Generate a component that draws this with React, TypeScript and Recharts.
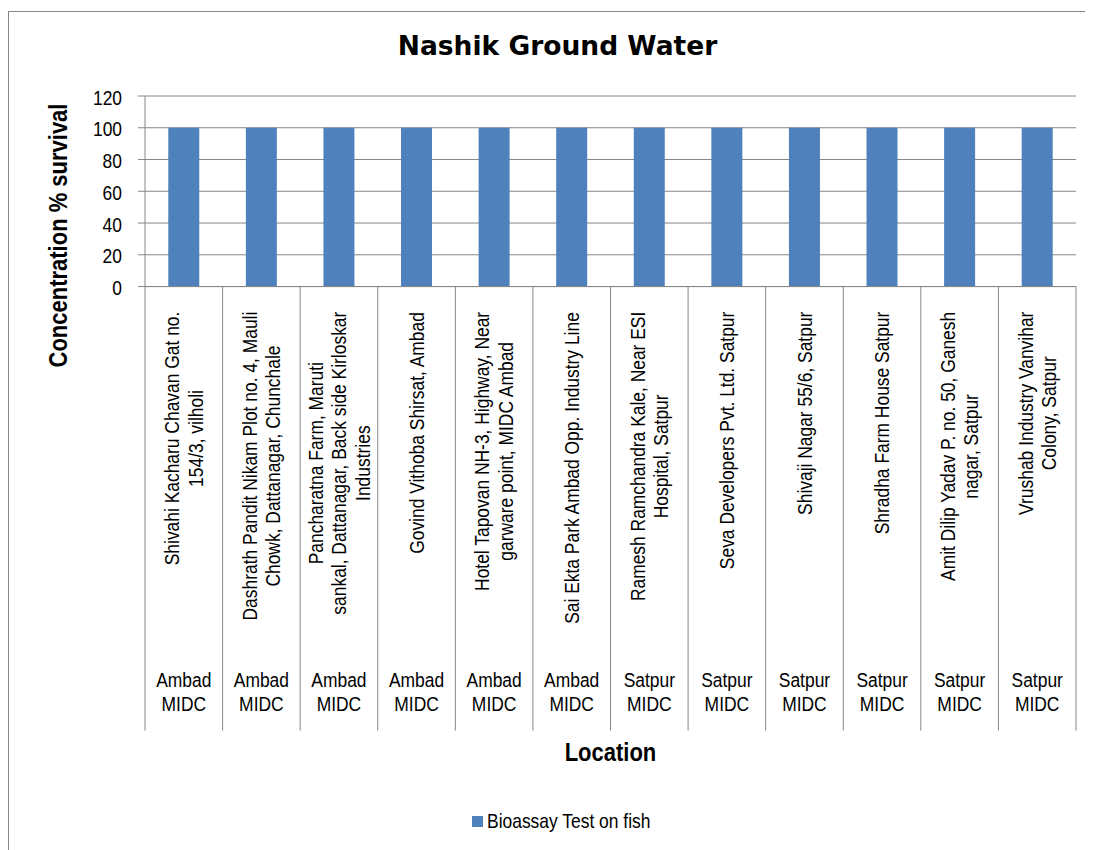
import React from 'react';
import { BarChart, Bar, XAxis, YAxis, CartesianGrid, Legend, Customized } from 'recharts';

// ---------- data ----------
const locations = [
  'Shivahi Kacharu Chavan Gat no. 154/3, vilholi',
  'Dashrath Pandit Nikam Plot no. 4, Mauli Chowk, Dattanagar, Chunchale',
  'Pancharatna Farm, Maruti sankal, Dattanagar, Back side Kirloskar Industries',
  'Govind Vithoba Shirsat, Ambad',
  'Hotel Tapovan NH-3, Highway, Near garware point, MIDC Ambad',
  'Sai Ekta Park Ambad Opp. Industry Line',
  'Ramesh Ramchandra Kale, Near ESI Hospital, Satpur',
  'Seva Developers Pvt. Ltd. Satpur',
  'Shivaji Nagar 55/6, Satpur',
  'Shradha Farm House Satpur',
  'Amit Dilip Yadav P. no. 50, Ganesh nagar, Satpur',
  'Vrushab Industry Vanvihar Colony, Satpur',
];

const locationLines = [
  ['Shivahi Kacharu Chavan Gat no.', '154/3, vilholi'],
  ['Dashrath Pandit Nikam Plot no. 4, Mauli', 'Chowk, Dattanagar, Chunchale'],
  ['Pancharatna Farm, Maruti', 'sankal, Dattanagar, Back side Kirloskar', 'Industries'],
  ['Govind Vithoba Shirsat, Ambad'],
  ['Hotel Tapovan NH-3, Highway, Near', 'garware point, MIDC Ambad'],
  ['Sai Ekta Park Ambad Opp. Industry Line'],
  ['Ramesh Ramchandra Kale, Near ESI', 'Hospital, Satpur'],
  ['Seva Developers Pvt. Ltd. Satpur'],
  ['Shivaji Nagar 55/6, Satpur'],
  ['Shradha Farm House Satpur'],
  ['Amit Dilip Yadav P. no. 50, Ganesh', 'nagar, Satpur'],
  ['Vrushab Industry Vanvihar', 'Colony, Satpur'],
];

const areaLines = [
  ['Ambad', 'MIDC'],
  ['Ambad', 'MIDC'],
  ['Ambad', 'MIDC'],
  ['Ambad', 'MIDC'],
  ['Ambad', 'MIDC'],
  ['Ambad', 'MIDC'],
  ['Satpur', 'MIDC'],
  ['Satpur', 'MIDC'],
  ['Satpur', 'MIDC'],
  ['Satpur', 'MIDC'],
  ['Satpur', 'MIDC'],
  ['Satpur', 'MIDC'],
];

const survival = [100, 100, 100, 100, 100, 100, 100, 100, 100, 100, 100, 100];

const yTicks = [0, 20, 40, 60, 80, 100, 120];

const seriesName = 'Bioassay Test on fish';
const chartTitle = 'Nashik Ground Water';
const xTitle = 'Location';
const yTitle = 'Concentration % survival';

const data = locations.map((name, i) => ({
  name,
  lines: locationLines[i],
  area: areaLines[i],
  value: survival[i],
}));

// ---------- style / layout ----------
const W = 1085;
const H = 842;
const FONT = "'Liberation Sans', Arial, sans-serif";
const TITLE_FONT = "'DejaVu Sans', Verdana, sans-serif";
const NARROW = 0.83; // emulate Arial Narrow
const GRID = '#868686';
const BAR = '#4F81BD';
const PLOT_LEFT = 137;
const PLOT_RIGHT = 1068;
const BAND = (PLOT_RIGHT - PLOT_LEFT) / locations.length;
const LABEL_SIZE = 21;
const AXIS_TITLE_SIZE = 26.5;

let ctx: CanvasRenderingContext2D | null = null;
function measure(t: string, size: number, bold = false): number {
  if (!ctx) {
    const c = document.createElement('canvas');
    ctx = c.getContext('2d');
  }
  if (!ctx) return t.length * size * 0.5;
  ctx.font = `${bold ? 'bold ' : ''}${size}px ${FONT}`;
  return ctx.measureText(t).width;
}

function NText(props: {
  x: number;
  y: number;
  rotate?: number;
  anchor?: 'start' | 'middle' | 'end';
  baseline?: string;
  size?: number;
  bold?: boolean;
  children: React.ReactNode;
}) {
  const { x, y, rotate = 0, anchor = 'middle', baseline, size = LABEL_SIZE, bold = false, children } = props;
  return (
    <text
      x={0}
      y={0}
      transform={`translate(${x}, ${y}) rotate(${rotate}) scale(${NARROW}, 1)`}
      textAnchor={anchor}
      dominantBaseline={baseline as any}
      fontFamily={FONT}
      fontWeight={bold ? 'bold' : 'normal'}
      fontSize={size}
      fill="#000"
    >
      {children}
    </text>
  );
}

function CategoryTick(props: any) {
  const { x, y, payload } = props;
  const idx = payload && typeof payload.index === 'number' ? payload.index : props.index;
  const d = data[idx];
  if (!d) return null;
  const lines: string[] = d.lines;
  const lh = 23.5;
  const maxLen = Math.max(...lines.map((l) => measure(l, LABEL_SIZE))) * NARROW;
  const cy = y + 25 + maxLen / 2;
  const n = lines.length;
  const sepBottom = y + 444;
  return (
    <g>
      <line x1={x - BAND / 2} x2={x - BAND / 2} y1={y} y2={sepBottom} stroke={GRID} strokeWidth={1} />
      {idx === data.length - 1 && (
        <line x1={x + BAND / 2} x2={x + BAND / 2} y1={y} y2={sepBottom} stroke={GRID} strokeWidth={1} />
      )}
      {lines.map((l, i) => (
        <NText key={i} x={x + (i - (n - 1) / 2) * lh} y={cy} rotate={-90} baseline="central">
          {l}
        </NText>
      ))}
      {d.area.map((a: string, i: number) => (
        <NText key={'a' + i} x={x} y={y + 400 + i * 24}>
          {a}
        </NText>
      ))}
    </g>
  );
}

function ValueTick(props: any) {
  const { x, y, payload } = props;
  return (
    <NText x={x} y={y + 1.5} anchor="end" baseline="central">
      {payload.value}
    </NText>
  );
}

function ChartTitle() {
  return (
    <text
      x={549.5}
      y={47}
      textAnchor="middle"
      fontFamily={TITLE_FONT}
      fontWeight="bold"
      fontSize={26.5}
      fill="#000"
    >
      {chartTitle}
    </text>
  );
}

function LegendLabel({ text }: { text: string }) {
  const w = measure(text, LABEL_SIZE) * NARROW;
  return (
    <span
      style={{
        display: 'inline-block',
        width: w,
        whiteSpace: 'nowrap',
        color: '#000',
        transform: `scaleX(${NARROW})`,
        transformOrigin: 'left center',
        verticalAlign: 'middle',
      }}
    >
      {text}
    </span>
  );
}

export default function App() {
  return (
    <div style={{ position: 'relative', width: W, height: H, overflow: 'hidden', background: '#fff' }}>
      <div
        style={{
          position: 'absolute',
          top: 3,
          left: 0,
          width: 3000,
          height: 3000,
          borderTop: `1px solid ${GRID}`,
          borderLeft: `1px solid ${GRID}`,
          boxSizing: 'border-box',
        }}
      />
      <BarChart
        width={W}
        height={H}
        data={data}
        margin={{ top: 88, right: W - PLOT_RIGHT, left: 0, bottom: 0 }}
        barCategoryGap="30%"
      >
        <CartesianGrid vertical={false} stroke={GRID} strokeWidth={1} />
        <XAxis
          dataKey="name"
          interval={0}
          height={538}
          tickSize={0}
          tickMargin={0}
          tickLine={false}
          axisLine={{ stroke: GRID }}
          tick={<CategoryTick />}
          label={{
            content: () => (
              <NText x={(PLOT_LEFT + PLOT_RIGHT) / 2} y={753} bold size={AXIS_TITLE_SIZE}>
                {xTitle}
              </NText>
            ),
          }}
        />
        <YAxis
          domain={[0, 120]}
          ticks={yTicks}
          interval={0}
          width={PLOT_LEFT}
          tickSize={7}
          tickMargin={16}
          axisLine={{ stroke: GRID }}
          tickLine={{ stroke: GRID }}
          tick={<ValueTick />}
          label={{
            content: () => (
              <NText x={49.5} y={227.5} rotate={-90} baseline="central" bold size={AXIS_TITLE_SIZE}>
                {yTitle}
              </NText>
            ),
          }}
        />
        <Legend
          verticalAlign="bottom"
          iconType="square"
          iconSize={11}
          wrapperStyle={{
            top: 800,
            left: 0,
            width: 1116,
            fontFamily: FONT,
            fontSize: LABEL_SIZE,
            lineHeight: '24px',
          }}
          formatter={(v: any) => <LegendLabel text={String(v)} />}
        />
        <Bar dataKey="value" name={seriesName} fill={BAR} isAnimationActive={false} />
        <Customized component={ChartTitle} />
      </BarChart>
    </div>
  );
}
